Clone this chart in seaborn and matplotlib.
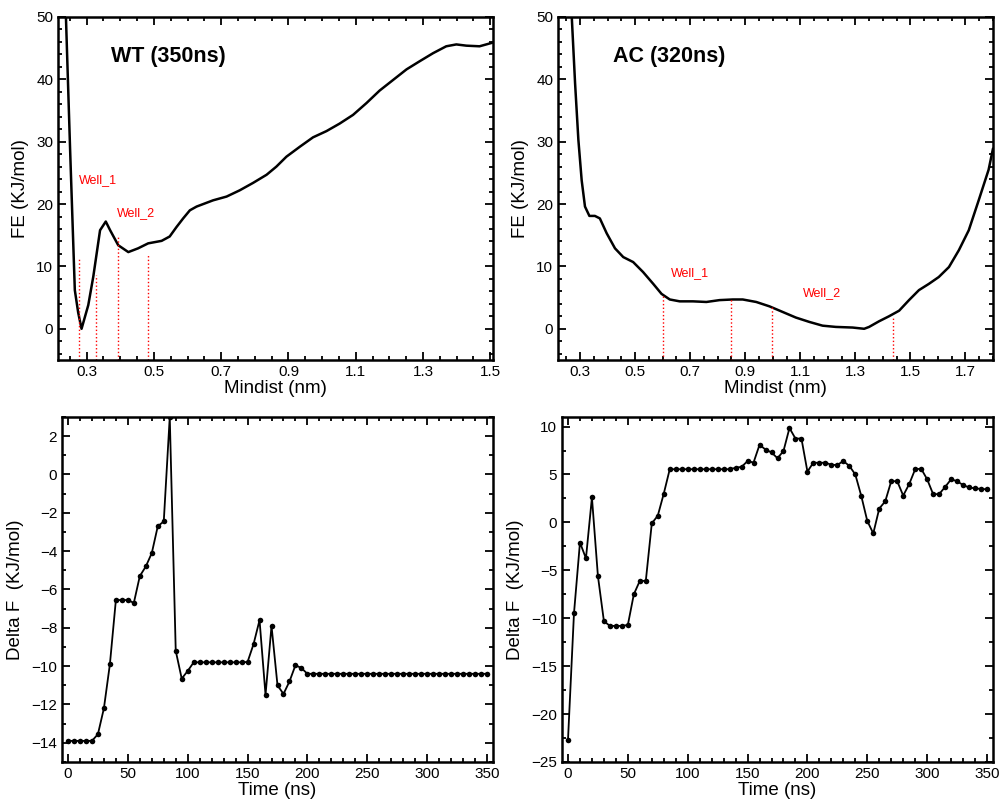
# Free energy profiles (top) and Delta F convergence (bottom), WT vs AC

import seaborn as sns
import matplotlib.pyplot as plt
from matplotlib.ticker import MultipleLocator

# WT free energy profile
wt_dist = [0.238, 0.251, 0.265, 0.275, 0.285, 0.305, 0.32, 0.34, 0.357, 0.37, 0.394,
           0.424, 0.453, 0.483, 0.523, 0.547, 0.567, 0.587, 0.607, 0.627, 0.676, 0.716,
           0.755, 0.795, 0.835, 0.864, 0.894, 0.934, 0.973, 1.013, 1.052, 1.092, 1.132,
           1.171, 1.211, 1.251, 1.29, 1.33, 1.369, 1.399, 1.429, 1.468, 1.508]
wt_fe = [51, 28.7, 6.2, 2.6, 0.0, 3.8, 8.4, 15.8, 17.2, 15.8, 13.4,
         12.3, 12.9, 13.7, 14.1, 14.8, 16.3, 17.7, 19.0, 19.6, 20.6, 21.2,
         22.2, 23.4, 24.7, 26.0, 27.6, 29.2, 30.7, 31.7, 32.9, 34.3, 36.2,
         38.2, 39.9, 41.6, 42.9, 44.2, 45.3, 45.6, 45.4, 45.3, 45.9]

# AC free energy profile
ac_dist = [0.27, 0.282, 0.294, 0.306, 0.318, 0.334, 0.354, 0.372, 0.397, 0.427, 0.457,
           0.493, 0.529, 0.566, 0.596, 0.626, 0.662, 0.71, 0.759, 0.807, 0.855, 0.891,
           0.94, 0.988, 1.036, 1.084, 1.133, 1.181, 1.229, 1.29, 1.332, 1.35, 1.386,
           1.422, 1.459, 1.495, 1.531, 1.567, 1.603, 1.64, 1.676, 1.712, 1.748, 1.784, 1.8]
ac_fe = [50, 39.4, 30.3, 23.8, 19.6, 18.1, 18.1, 17.7, 15.3, 12.9, 11.5,
         10.7, 9.1, 7.2, 5.6, 4.7, 4.4, 4.4, 4.3, 4.6, 4.7, 4.7,
         4.3, 3.6, 2.7, 1.8, 1.1, 0.5, 0.3, 0.2, 0.0, 0.3, 1.2,
         2.0, 2.9, 4.6, 6.2, 7.2, 8.3, 9.9, 12.6, 15.8, 20.6, 25.5, 28.9]

# well boundaries (x, top of dotted line)
wt_wells = [0.276, 0.329, 0.394, 0.482]
wt_well_tops = [11.5, 8.6, 14.7, 11.8]
ac_wells = [0.6, 0.85, 0.998, 1.435]
ac_well_tops = [5.6, 4.8, 3.5, 1.9]

# Delta F vs time (every 5 ns)
time_ns = list(range(0, 355, 5))
wt_df = [-13.9, -13.9, -13.9, -13.9, -13.9, -13.55, -12.2, -9.9, -6.55, -6.55,
         -6.55, -6.7, -5.3, -4.8, -4.1, -2.7, -2.45, 3.0, -9.2, -10.65,
         -10.25, -9.8, -9.8, -9.8, -9.8, -9.8, -9.8, -9.8, -9.8, -9.8,
         -9.78, -8.85, -7.6, -11.5, -7.9, -11.0, -11.45, -10.8, -9.95, -10.1,
         -10.4] + [-10.4] * 30
ac_df = [-22.7, -9.5, -2.1, -3.75, 2.6, -5.6, -10.3, -10.8, -10.8, -10.8,
         -10.7, -7.5, -6.1, -6.1, -0.1, 0.7, 3.0, 5.55, 5.55, 5.55,
         5.55, 5.55, 5.55, 5.55, 5.55, 5.55, 5.55, 5.55, 5.7, 5.8,
         6.4, 6.25, 8.1, 7.6, 7.3, 6.7, 7.45, 9.85, 8.75, 8.75,
         5.3, 6.25, 6.2, 6.25, 6.0, 6.0, 6.4, 5.9, 5.0, 2.75,
         0.15, -1.15, 1.45, 2.2, 4.3, 4.3, 2.8, 4.0, 5.55, 5.6,
         4.5, 2.95, 2.95, 3.7, 4.5, 4.3, 3.9, 3.65, 3.55, 3.5,
         3.45]

sns.set_style("ticks")
plt.rcParams['font.family'] = ['Liberation Sans', 'DejaVu Sans']
plt.rcParams.update({"text.color": "black", "axes.labelcolor": "black",
                     "xtick.color": "black", "ytick.color": "black"})

fig = plt.figure(figsize=(10, 8.01), dpi=100)
ax1 = fig.add_axes([0.058, 0.5506, 0.435, 0.4282])
ax2 = fig.add_axes([0.558, 0.5506, 0.435, 0.4282])
ax3 = fig.add_axes([0.062, 0.0487, 0.431, 0.4307])
ax4 = fig.add_axes([0.562, 0.0487, 0.431, 0.4307])


def style(ax, xmin, ymaj, ymin):
    ax.xaxis.set_minor_locator(MultipleLocator(xmin))
    ax.yaxis.set_major_locator(MultipleLocator(ymaj))
    ax.yaxis.set_minor_locator(MultipleLocator(ymin))
    ax.tick_params(which="both", direction="in", top=True, right=True,
                   width=1.3, labelsize=11)
    ax.tick_params(which="major", length=6)
    ax.tick_params(which="minor", length=3)
    for s in ax.spines.values():
        s.set_linewidth(1.8)
        s.set_color("black")


# top panels: FE profiles
for ax, x, y, wells, tops, ttl, tx, lab1, lab2, xl, xt in [
        (ax1, wt_dist, wt_fe, wt_wells, wt_well_tops, "WT (350ns)", 0.372,
         (0.277, 23.8), (0.391, 18.6), (0.215, 1.508),
         [0.3, 0.5, 0.7, 0.9, 1.1, 1.3, 1.5]),
        (ax2, ac_dist, ac_fe, ac_wells, ac_well_tops, "AC (320ns)", 0.42,
         (0.632, 8.9), (1.109, 5.8), (0.22, 1.8),
         [0.3, 0.5, 0.7, 0.9, 1.1, 1.3, 1.5, 1.7])]:
    sns.lineplot(x=x, y=y, ax=ax, color="black", lw=1.8, sort=False)
    ax.vlines(wells, -5, tops, colors="red", linestyles=":", lw=1.0)
    ax.text(tx, 43.6, ttl, fontsize=15.5, fontweight="bold", va="center")
    ax.text(lab1[0], lab1[1], "Well_1", color="red", fontsize=9, va="center")
    ax.text(lab2[0], lab2[1], "Well_2", color="red", fontsize=9, va="center")
    ax.set_xlim(*xl)
    ax.set_ylim(-5, 50)
    ax.set_xticks(xt)
    style(ax, 0.05, 10, 2)
    ax.set_xlabel("Mindist (nm)", fontsize=13.5, labelpad=1)
    ax.set_ylabel("FE (KJ/mol)", fontsize=13.5, labelpad=5)

# bottom panels: Delta F convergence
for ax, y, ylim, ymaj, ymin in [(ax3, wt_df, (-15, 3), 2, 1),
                                 (ax4, ac_df, (-25, 11), 5, 2.5)]:
    sns.lineplot(x=time_ns, y=y, ax=ax, color="black", lw=1.3,
                 marker="o", markersize=4, markeredgewidth=0)
    ax.set_xlim(-5, 355)
    ax.set_ylim(*ylim)
    ax.xaxis.set_major_locator(MultipleLocator(50))
    style(ax, 10, ymaj, ymin)
    ax.set_xlabel("Time (ns)", fontsize=13.5, labelpad=1)
    ax.set_ylabel("Delta F  (KJ/mol)", fontsize=13.5, labelpad=5)

fig.savefig("out.png", dpi=100)
